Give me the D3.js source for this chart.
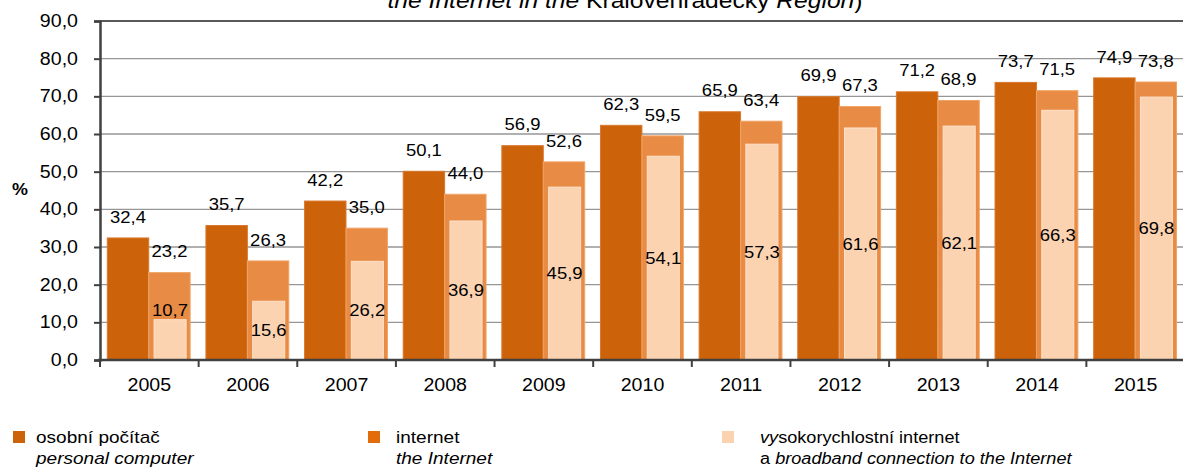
<!DOCTYPE html>
<html>
<head>
<meta charset="utf-8">
<script src="https://cdn.jsdelivr.net/npm/d3@7"></script>
<style>
  html, body { margin: 0; padding: 0; background: #fff; }
  svg { display: block; font-family: "Liberation Sans", Arial, sans-serif; }
</style>
</head>
<body>
<svg id="chart" width="1183" height="472"></svg>
<script>
// ---- data ----
const years = ["2005","2006","2007","2008","2009","2010","2011","2012","2013","2014","2015"];
const personalComputer = [32.4,35.7,42.2,50.1,56.9,62.3,65.9,69.9,71.2,73.7,74.9];
const internet = [23.2,26.3,35.0,44.0,52.6,59.5,63.4,67.3,68.9,71.5,73.8];
const broadband = [10.7,15.6,26.2,36.9,45.9,54.1,57.3,61.6,62.1,66.3,69.8];
const yTicks = [0,10,20,30,40,50,60,70,80,90];
const legendLabels = [
  ["osobní počítač", "personal computer"],
  ["internet", "the Internet"],
  ["vysokorychlostní internet", "a broadband connection to the Internet"]
];

// ---- setup ----
const SX = 1.12; // horizontal text stretch of reference
const svg = d3.select("#chart");
const L = 100, R = 1185, T = 21, B = 360;
const y = d3.scaleLinear().domain([0, 90]).range([B, T]);
const x = d3.scaleBand().domain(years).range([L, R]).padding(0);
const bw = x.bandwidth();
const fmt = v => d3.format(".1f")(v).replace(".", ",");

const C_DARK = "#cc620a", C_MED = "#e88b45", C_LIGHT = "#fbd3b1", C_LEG2 = "#e36c0a";

function txt(g, px, py, s, size, anchor, extra) {
  const t = g.append("text")
    .attr("transform", `translate(${px},${py}) scale(${SX},1)`)
    .attr("font-size", size)
    .attr("text-anchor", anchor || "start")
    .attr("fill", "#000")
    .text(s);
  if (extra) extra(t);
  return t;
}

// ---- gridlines ----
svg.append("g").selectAll("line").data(yTicks.filter(v => v > 0 && v < 90)).join("line")
  .attr("x1", L).attr("x2", R).attr("y1", d => y(d)).attr("y2", d => y(d))
  .attr("stroke", "#969696").attr("stroke-width", 1.3);
svg.append("line").attr("x1", L).attr("x2", R).attr("y1", y(90)).attr("y2", y(90))
  .attr("stroke", "#5a5a5a").attr("stroke-width", 2);

// ---- bars ----
const idx = d3.range(years.length);
const bars = svg.append("g");
bars.selectAll("rect.pc").data(idx).join("rect")
  .attr("x", i => x(years[i]) + bw * 0.074)
  .attr("width", bw * 0.42)
  .attr("y", i => y(personalComputer[i]))
  .attr("height", i => y(0) - y(personalComputer[i]))
  .attr("fill", C_DARK).attr("stroke", "#d9782c").attr("stroke-width", 1);
bars.selectAll("rect.inet").data(idx).join("rect")
  .attr("x", i => x(years[i]) + bw * 0.494)
  .attr("width", bw * 0.42)
  .attr("y", i => y(internet[i]))
  .attr("height", i => y(0) - y(internet[i]))
  .attr("fill", C_MED).attr("stroke", "#f0a465").attr("stroke-width", 1);
bars.selectAll("rect.bb").data(idx).join("rect")
  .attr("x", i => x(years[i]) + bw * 0.548)
  .attr("width", bw * 0.325)
  .attr("y", i => y(broadband[i]))
  .attr("height", i => y(0) - y(broadband[i]))
  .attr("fill", C_LIGHT).attr("stroke", "#fde2cb").attr("stroke-width", 1);

// ---- data labels ----
const lab = svg.append("g");
idx.forEach(i => {
  const x0 = x(years[i]);
  txt(lab, x0 + bw * 0.284, y(personalComputer[i]) - 21, fmt(personalComputer[i]), 16.5, "middle",
      t => t.attr("dominant-baseline", "central"));
  txt(lab, x0 + bw * 0.704, y(internet[i]) - 21, fmt(internet[i]), 16.5, "middle",
      t => t.attr("dominant-baseline", "central"));
  const top = y(broadband[i]);
  const h = y(0) - top;
  const cy = h < 45 ? top - 9 : (top + y(0)) / 2;
  txt(lab, x0 + bw * 0.71, cy, fmt(broadband[i]), 16.5, "middle",
      t => t.attr("dominant-baseline", "central"));
});

// ---- axes ----
const yAxis = svg.append("g").attr("transform", `translate(${L},0)`)
  .call(d3.axisLeft(y).tickValues(yTicks).tickSize(6).tickPadding(0).tickFormat(""));
yAxis.select(".domain").attr("stroke", "#404040").attr("stroke-width", 2.5);
yAxis.selectAll(".tick line").attr("stroke", "#404040").attr("stroke-width", 2);
const ytl = svg.append("g");
yTicks.forEach(v => txt(ytl, 78, y(v), fmt(v), 17.5, "end", t => t.attr("dominant-baseline", "central")));

// x axis line + boundary ticks
const xb = svg.append("g");
xb.append("line").attr("x1", L - 2).attr("x2", R).attr("y1", B).attr("y2", B)
  .attr("stroke", "#404040").attr("stroke-width", 2.5);
const bounds = years.map(yr => x(yr)).concat([R]);
xb.selectAll("line.t").data(bounds).join("line")
  .attr("x1", d => d).attr("x2", d => d).attr("y1", B).attr("y2", B + 7)
  .attr("stroke", "#404040").attr("stroke-width", 2);
const xAxis = svg.append("g").attr("transform", `translate(0,${B})`)
  .call(d3.axisBottom(x).tickSize(0).tickFormat(""));
xAxis.select(".domain").remove();
years.forEach(yr => txt(xb, x(yr) + bw / 2, 385, yr, 17.5, "middle", t => t.attr("dominant-baseline", "central")));

// y label
svg.append("text").attr("transform", `translate(20,190) scale(${SX},1)`).attr("text-anchor", "middle")
  .attr("dominant-baseline", "central").attr("font-size", 16).attr("font-weight", "bold").text("%");

// ---- title (partially clipped at top, as in reference) ----
const title = svg.append("text")
  .attr("transform", `translate(625,8) scale(${SX},1)`)
  .attr("font-size", 22).attr("text-anchor", "middle");
title.append("tspan").attr("font-style", "italic").text("the Internet in the ");
title.append("tspan").text("Královéhradecký ");
title.append("tspan").attr("font-style", "italic").text("Region");
title.append("tspan").text(")");

// ---- legend ----
const lg = svg.append("g");
const legColors = [C_DARK, C_LEG2, C_LIGHT];
const legSw = [13, 368, 722];
const legTx = [36, 396, 760];
const legSize = [17, 17, 16.2];
legendLabels.forEach((lbl, i) => {
  lg.append("rect").attr("x", legSw[i]).attr("y", 431).attr("width", 12).attr("height", 12)
    .attr("fill", legColors[i]);
  const t1 = lg.append("text").attr("transform", `translate(${legTx[i]},443) scale(${SX},1)`)
    .attr("font-size", legSize[i]);
  const t2 = lg.append("text").attr("transform", `translate(${legTx[i]},464) scale(${SX},1)`)
    .attr("font-size", legSize[i]);
  if (i === 2) {
    t1.append("tspan").attr("font-style", "italic").text(lbl[0].slice(0, 2));
    t1.append("tspan").text(lbl[0].slice(2));
    t2.append("tspan").text(lbl[1].slice(0, 2));
    t2.append("tspan").attr("font-style", "italic").text(lbl[1].slice(2));
  } else {
    t1.text(lbl[0]);
    t2.attr("font-style", "italic").text(lbl[1]);
  }
});
</script>
</body>
</html>
